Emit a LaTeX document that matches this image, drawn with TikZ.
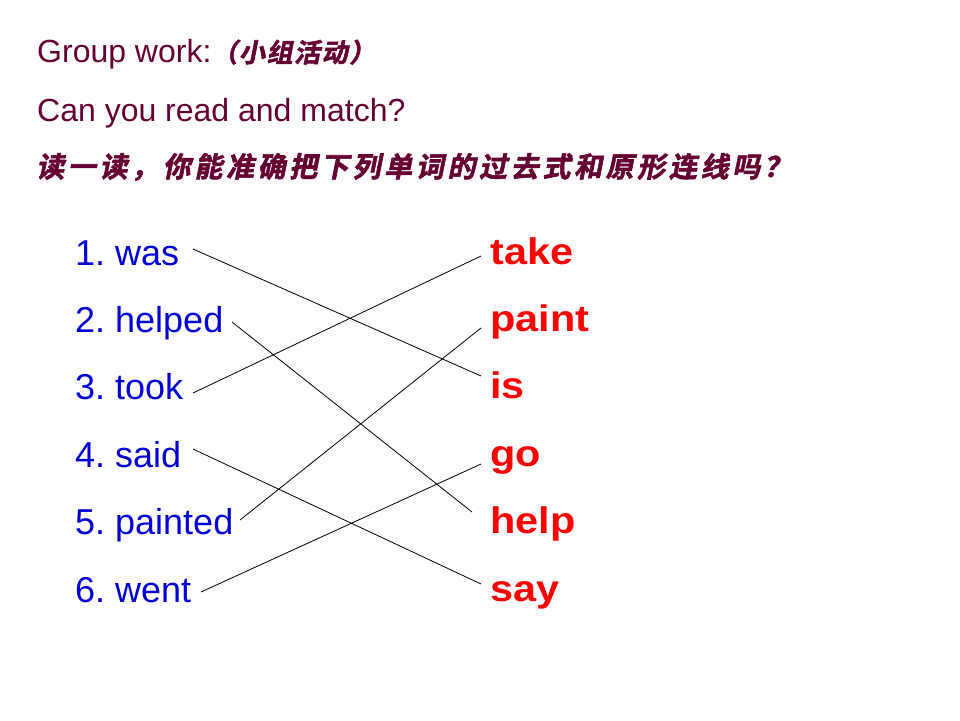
\documentclass[tikz,border=0pt]{standalone}
\usepackage{fontspec}
\setmainfont{Liberation Sans}
\newfontfamily\cjkcal[FakeSlant=0.2,FakeBold=2,LetterSpace=13]{Noto Sans CJK SC Bold}
\newfontfamily\cjkhead[FakeSlant=0.2,FakeBold=2,LetterSpace=6]{Noto Sans CJK SC Bold}
\newfontfamily\redfont[FakeStretch=1.12]{Liberation Sans Bold}
\definecolor{maroon}{RGB}{102,0,51}
\definecolor{wordblue}{RGB}{0,0,214}
\definecolor{wordred}{RGB}{255,0,0}
\frenchspacing
\begin{document}
\begin{tikzpicture}[x=1pt,y=-1pt,
  head/.style={anchor=base west,inner sep=0pt,text=maroon,font=\fontsize{32}{38}\selectfont},
  past/.style={anchor=base west,inner sep=0pt,text=wordblue,font=\fontsize{36}{42}\selectfont},
  base/.style={anchor=base west,inner sep=0pt,text=wordred,font=\redfont\fontsize{37}{42}\selectfont},
  link/.style={draw=black,line width=0.8pt}]
\useasboundingbox[fill=white] (0,0) rectangle (960,720);
\node[head] (h1) at (37,62) {Group work:{\cjkhead\fontsize{26}{30}\selectfont （小组活动）}};
\node[head] (h2) at (37,121) {Can you read and match?};
\node[head,font=\cjkcal\fontsize{28}{32}\selectfont] (h3) at (36,177) {读一读，你能准确把下列单词的过去式和原形连线吗？};
% past forms
\node[past] (p1) at (75,265.0) {1. was};
\node[past] (p2) at (75,332.4) {2. helped};
\node[past] (p3) at (75,399.8) {3. took};
\node[past] (p4) at (75,467.2) {4. said};
\node[past] (p5) at (75,534.6) {5. painted};
\node[past] (p6) at (75,602.0) {6. went};
% base forms
\node[base] (b1) at (490,264.0) {take};
\node[base] (b2) at (490,331.4) {paint};
\node[base] (b3) at (490,398.8) {is};
\node[base] (b4) at (490,466.2) {go};
\node[base] (b5) at (490,533.6) {help};
\node[base] (b6) at (490,601.0) {say};
% connector ends
\coordinate (l1) at (193,249);
\coordinate (l2) at (232,322);
\coordinate (l3) at (193,393);
\coordinate (l4) at (193,449);
\coordinate (l5) at (240,520);
\coordinate (l6) at (201,592);
\coordinate (r1) at (481,256);
\coordinate (r2) at (481,328);
\coordinate (r3) at (481,376);
\coordinate (r4) at (481,464);
\coordinate (r5) at (472,512);
\coordinate (r6) at (481,584);
\draw[link] (l1) -- (r3);
\draw[link] (l2) -- (r5);
\draw[link] (l3) -- (r1);
\draw[link] (l4) -- (r6);
\draw[link] (l5) -- (r2);
\draw[link] (l6) -- (r4);
\end{tikzpicture}
\end{document}
